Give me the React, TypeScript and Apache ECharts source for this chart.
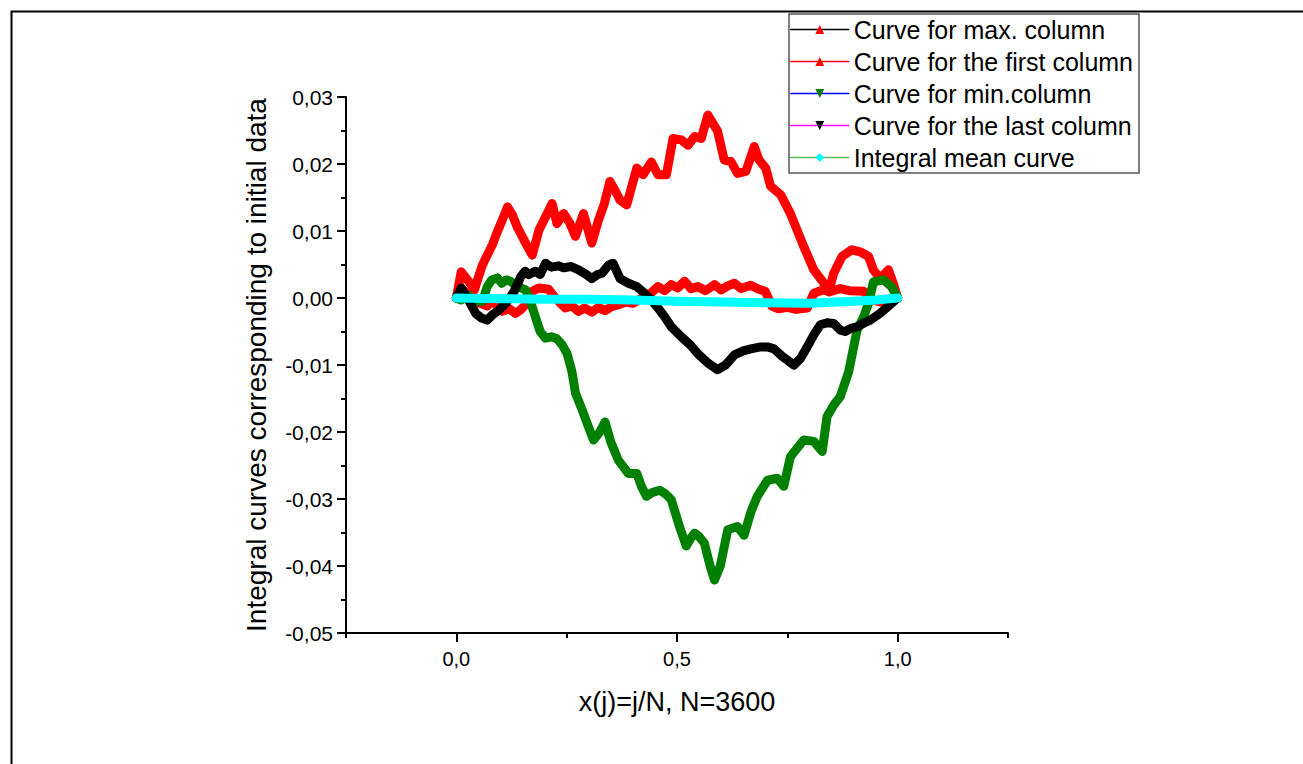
import React, { useEffect, useRef } from "react";
import * as echarts from "echarts";

// ---------- data ----------
const seriesNames = [
  "Curve for max. column",
  "Curve for the first column",
  "Curve for min.column",
  "Curve for the last column",
  "Integral mean curve",
];

const xMax = [0, 0.011, 0.029, 0.041, 0.048, 0.059, 0.07, 0.082, 0.093, 0.105, 0.116, 0.127, 0.138, 0.157, 0.172, 0.187, 0.202, 0.217, 0.228, 0.243, 0.257, 0.27, 0.288, 0.307, 0.322, 0.335, 0.348, 0.36, 0.371, 0.386, 0.409, 0.423, 0.442, 0.457, 0.476, 0.491, 0.51, 0.525, 0.54, 0.555, 0.57, 0.592, 0.607, 0.622, 0.637, 0.656, 0.675, 0.686, 0.701, 0.712, 0.735, 0.757, 0.787, 0.81, 0.833, 0.844, 0.855, 0.874, 0.896, 0.915, 0.934, 0.945, 0.96, 0.979, 0.99, 1.0];
const yMax = [0, 0.0039, 0.0024, 0.0012, 0.0027, 0.0049, 0.0064, 0.008, 0.0099, 0.0118, 0.0136, 0.0124, 0.0106, 0.0082, 0.0064, 0.0101, 0.0121, 0.0141, 0.0111, 0.0126, 0.0112, 0.0092, 0.0126, 0.0082, 0.0116, 0.014, 0.0174, 0.016, 0.0146, 0.0139, 0.0194, 0.0184, 0.0203, 0.0184, 0.0184, 0.0238, 0.0236, 0.0228, 0.0241, 0.0238, 0.0273, 0.0249, 0.0206, 0.0204, 0.0186, 0.0189, 0.0226, 0.0206, 0.0194, 0.0167, 0.0154, 0.0126, 0.0077, 0.0042, 0.0022, 0.0009, 0.0037, 0.0062, 0.0072, 0.0069, 0.0062, 0.0042, 0.0029, 0.0042, 0.0022, 0];

const xFirst = [0, 0.011, 0.025, 0.04, 0.055, 0.07, 0.082, 0.095, 0.104, 0.12, 0.134, 0.145, 0.157, 0.172, 0.187, 0.209, 0.222, 0.232, 0.247, 0.262, 0.277, 0.29, 0.307, 0.322, 0.337, 0.352, 0.367, 0.385, 0.4, 0.415, 0.427, 0.442, 0.457, 0.472, 0.487, 0.502, 0.517, 0.532, 0.547, 0.565, 0.585, 0.6, 0.615, 0.63, 0.645, 0.667, 0.685, 0.7, 0.715, 0.73, 0.75, 0.77, 0.795, 0.81, 0.83, 0.85, 0.87, 0.89, 0.923, 0.94, 0.96, 0.98, 1.0];
const yFirst = [0, 0.0015, 0.0005, -0.0005, -0.0008, -0.0012, -0.0003, -0.0015, -0.002, -0.0016, -0.0023, -0.0018, -0.001, 0.001, 0.0015, 0.0013, 0.0002, -0.0005, -0.0015, -0.0012, -0.002, -0.0015, -0.0021, -0.0014, -0.0019, -0.0013, -0.001, -0.0006, -0.0008, -0.0002, 0.0002, 0.0008, 0.0017, 0.0011, 0.002, 0.0015, 0.0025, 0.0014, 0.0017, 0.0011, 0.002, 0.0012, 0.0018, 0.0022, 0.0014, 0.0019, 0.0013, 0.001, -0.0012, -0.0016, -0.0014, -0.0017, -0.0015, 0.0007, 0.0012, 0.001, 0.0014, 0.0011, 0.001, -0.0002, -0.0006, -0.0003, 0];

const xMin = [0, 0.011, 0.025, 0.04, 0.059, 0.07, 0.08, 0.093, 0.103, 0.113, 0.123, 0.135, 0.157, 0.168, 0.18, 0.19, 0.202, 0.215, 0.228, 0.24, 0.251, 0.262, 0.27, 0.284, 0.298, 0.311, 0.325, 0.337, 0.35, 0.367, 0.39, 0.409, 0.42, 0.431, 0.445, 0.461, 0.475, 0.487, 0.505, 0.521, 0.53, 0.54, 0.55, 0.562, 0.575, 0.585, 0.598, 0.615, 0.637, 0.652, 0.667, 0.682, 0.705, 0.727, 0.742, 0.757, 0.787, 0.81, 0.829, 0.84, 0.855, 0.87, 0.889, 0.908, 0.923, 0.934, 0.945, 0.968, 0.986, 1.0];
const yMin = [0, -0.0003, 0.0005, -0.0004, -0.0005, 0.0017, 0.0027, 0.003, 0.0022, 0.0027, 0.0025, 0.0018, 0.0012, -0.0005, -0.003, -0.005, -0.006, -0.0058, -0.0061, -0.007, -0.0083, -0.011, -0.0142, -0.0165, -0.019, -0.0212, -0.02, -0.0185, -0.0215, -0.0242, -0.0262, -0.0262, -0.0282, -0.0296, -0.029, -0.0287, -0.0293, -0.0301, -0.034, -0.037, -0.036, -0.0351, -0.0356, -0.0366, -0.04, -0.0421, -0.04, -0.0346, -0.0341, -0.0354, -0.032, -0.0296, -0.0272, -0.0269, -0.0281, -0.0237, -0.0212, -0.0214, -0.0229, -0.0177, -0.016, -0.0147, -0.011, -0.0048, -0.0028, -0.0008, 0.0024, 0.0027, 0.0017, 0];

const xLast = [0, 0.011, 0.025, 0.044, 0.057, 0.07, 0.082, 0.093, 0.112, 0.131, 0.146, 0.156, 0.164, 0.179, 0.19, 0.202, 0.215, 0.232, 0.243, 0.26, 0.277, 0.295, 0.307, 0.32, 0.33, 0.345, 0.355, 0.371, 0.39, 0.409, 0.425, 0.442, 0.457, 0.472, 0.487, 0.51, 0.53, 0.547, 0.57, 0.592, 0.61, 0.63, 0.65, 0.667, 0.69, 0.705, 0.72, 0.74, 0.765, 0.78, 0.795, 0.81, 0.825, 0.84, 0.855, 0.87, 0.881, 0.895, 0.908, 0.925, 0.938, 0.96, 0.983, 1.0];
const yLast = [0, 0.0015, 0, -0.0023, -0.003, -0.0033, -0.0025, -0.002, -0.0008, 0.001, 0.0032, 0.004, 0.0035, 0.004, 0.0035, 0.0052, 0.0046, 0.0048, 0.0045, 0.0047, 0.0042, 0.0035, 0.0029, 0.0035, 0.0037, 0.0049, 0.0052, 0.0029, 0.0022, 0.0017, 0.0008, -0.0003, -0.0015, -0.0028, -0.0043, -0.0058, -0.007, -0.0083, -0.0097, -0.0107, -0.01, -0.0085, -0.0079, -0.0076, -0.0073, -0.0073, -0.0076, -0.0088, -0.01, -0.009, -0.0073, -0.0055, -0.004, -0.0037, -0.0038, -0.0048, -0.005, -0.0045, -0.0043, -0.0037, -0.0033, -0.0023, -0.001, 0];

const xMean = [0, 0.1, 0.2, 0.3, 0.4, 0.5, 0.6, 0.7, 0.8, 0.9, 0.95, 1.0];
const yMean = [0, -0.0001, -0.0002, -0.0002, -0.0003, -0.0005, -0.0006, -0.0007, -0.0008, -0.0005, -0.0003, 0];

const xTicks = [0, 0.5, 1.0];

// ---------- styles ----------
const FONT = "'Liberation Sans', Arial, sans-serif";
const curveColors = ["#ff0000", "#ff0000", "#008000", "#000000", "#00ffff"];
const legendLineColors = ["#000000", "#ff0000", "#0000ff", "#ff00ff", "#5cb85c"];
const symbols = ["triangle", "triangle", "triangle", "triangle", "diamond"];
const symbolRotates = [0, 0, 180, 180, 0];
const legendSymbolColors = ["#ff0000", "#ff0000", "#008000", "#000000", "#00ffff"];

const zip = (xs: number[], ys: number[]) => xs.map((x, i) => [x, ys[i]]);

export default function App() {
  const ref = useRef<HTMLDivElement>(null);
  useEffect(() => {
    if (!ref.current) return;
    const chart = echarts.init(ref.current, undefined, { renderer: "svg" });
    const allData = [
      zip(xMax, yMax),
      zip(xFirst, yFirst),
      zip(xMin, yMin),
      zip(xLast, yLast),
      zip(xMean, yMean),
    ];
    const fmtY = (v: number) => (Math.abs(v) < 1e-9 ? 0 : v).toFixed(2).replace(".", ",");
    const option: any = {
      animation: false,
      backgroundColor: "#ffffff",
      textStyle: { fontFamily: FONT },
      grid: { left: 346, right: 295, top: 97, bottom: 131, containLabel: false },
      xAxis: [
        {
          type: "value",
          min: -0.25,
          max: 1.25,
          interval: 0.25,
          name: "x(j)=j/N, N=3600",
          nameLocation: "middle",
          nameGap: 55,
          nameTextStyle: { fontSize: 27, color: "#000", fontFamily: FONT },
          axisLine: { show: true, onZero: false, lineStyle: { color: "#000", width: 2 } },
          axisTick: { show: true, length: 5, lineStyle: { color: "#000", width: 2 } },
          axisLabel: {
            color: "#000",
            fontSize: 20,
            fontFamily: FONT,
            margin: 16,
            formatter: (v: number) =>
              Math.abs(v * 2 - Math.round(v * 2)) < 1e-9 ? v.toFixed(1).replace(".", ",") : "",
          },
          splitLine: { show: false },
        },
        {
          type: "value",
          min: -0.25,
          max: 1.25,
          position: "bottom",
          axisLine: { show: false, onZero: false },
          axisTick: { show: true, length: 9, customValues: xTicks, lineStyle: { color: "#000", width: 2 } },
          axisLabel: { show: false },
          splitLine: { show: false },
        },
      ],
      yAxis: {
        type: "value",
        min: -0.05,
        max: 0.03,
        interval: 0.01,
        name: "Integral curves corresponding to initial data",
        nameLocation: "middle",
        nameGap: 76,
        nameTextStyle: { fontSize: 28, color: "#000", fontFamily: FONT },
        axisLine: { show: true, onZero: false, lineStyle: { color: "#000", width: 2 } },
        axisTick: { show: true, length: 9, lineStyle: { color: "#000", width: 2 } },
        minorTick: { show: true, splitNumber: 2, length: 5, lineStyle: { color: "#000", width: 2 } },
        axisLabel: { color: "#000", fontSize: 21, fontFamily: FONT, margin: 13, formatter: fmtY },
        splitLine: { show: false },
        minorSplitLine: { show: false },
      },
      legend: {
        orient: "vertical",
        left: 789,
        top: 14,
        itemWidth: 58,
        itemHeight: 11,
        itemGap: 7,
        padding: [3, 6, 3, 1],
        borderColor: "#555",
        borderWidth: 1.5,
        backgroundColor: "#fff",
        textStyle: { fontSize: 25, color: "#000", fontFamily: FONT },
        data: seriesNames.map((n, i) => ({
          name: n,
          itemStyle: { color: legendSymbolColors[i], borderWidth: 0 },
          lineStyle: { color: legendLineColors[i], width: 1.5 },
        })),
      },
      graphic: [
        {
          type: "rect",
          left: 9,
          top: 9,
          shape: { x: 0, y: 0, width: 1400, height: 900 },
          style: { fill: "none", stroke: "#000", lineWidth: 2 },
          silent: true,
          z: 100,
        },
      ],
      series: seriesNames.map((n, i) => ({
        name: n,
        type: "line",
        data: allData[i],
        showSymbol: false,
        symbol: symbols[i],
        symbolRotate: symbolRotates[i],
        xAxisIndex: 0,
        color: curveColors[i],
        lineStyle: { color: curveColors[i], width: 9, join: "round", cap: "round" },
        itemStyle: { color: curveColors[i] },
        z: 2 + i,
      })),
    };
    chart.setOption(option);
    return () => chart.dispose();
  }, []);
  return (
    <div
      ref={ref}
      style={{ position: "fixed", left: 0, top: 0, width: 1303, height: 764, background: "#fff" }}
    />
  );
}
